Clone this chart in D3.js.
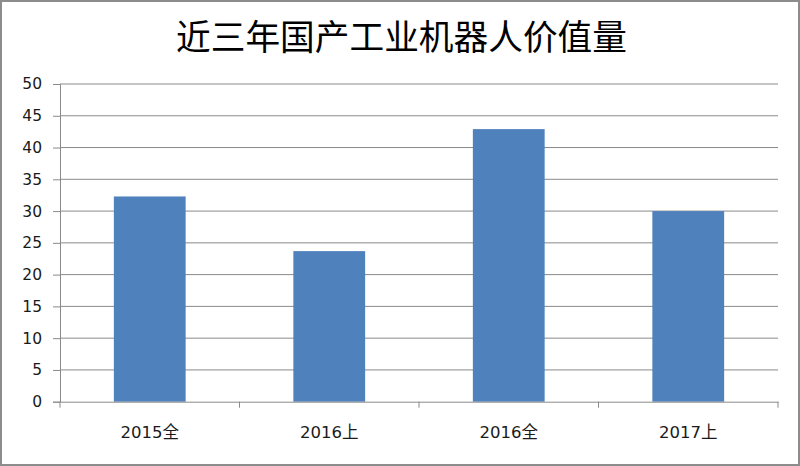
<!DOCTYPE html>
<html><head><meta charset="utf-8">
<script src="https://cdn.jsdelivr.net/npm/d3@7"></script>
<style>body{margin:0;background:#fff}svg{display:block}</style>
</head><body>
<svg id="c" width="800" height="466"></svg>
<script>
const title = "近三年国产工业机器人价值量";
const categories = ["2015全", "2016上", "2016全", "2017上"];
const values = [32.3, 23.7, 42.9, 30.0];
const yTicks = [0, 5, 10, 15, 20, 25, 30, 35, 40, 45, 50];

const svg = d3.select("#c");
const L = 60, R = 778, T = 84, B = 401.7;

svg.append("rect").attr("x", 1).attr("y", 1).attr("width", 798).attr("height", 464)
  .attr("fill", "#fff").attr("stroke", "#8c8c8c").attr("stroke-width", 2);

svg.append("text").attr("x", 401.5).attr("y", 50).attr("text-anchor", "middle")
  .attr("font-family", "'Noto Sans CJK SC', sans-serif").attr("font-size", 34.7)
  .attr("fill", "#000").text(title);

const x = d3.scaleBand().domain(categories).range([L, R]).padding(0);
const y = d3.scaleLinear().domain([0, 50]).range([B, T]);

// gridlines
svg.append("g").selectAll("line").data(yTicks.filter(d => d > 0)).join("line")
  .attr("x1", L).attr("x2", R).attr("y1", d => y(d)).attr("y2", d => y(d))
  .attr("stroke", "#8a8a8a").attr("stroke-width", 1);

// bars
const bw = x.bandwidth() * 0.4;
svg.append("g").selectAll("rect").data(values).join("rect")
  .attr("x", (d, i) => x(categories[i]) + (x.bandwidth() - bw) / 2)
  .attr("width", bw)
  .attr("y", d => y(d)).attr("height", d => B - y(d))
  .attr("fill", "#4f81bd");

// y axis
const yAxis = svg.append("g").attr("transform", `translate(${L},0)`)
  .call(d3.axisLeft(y).tickValues(yTicks).tickSize(7).tickPadding(11));
yAxis.select(".domain").attr("stroke", "#8a8a8a");
yAxis.selectAll(".tick line").attr("stroke", "#8a8a8a");
yAxis.selectAll(".tick text").attr("font-family", "'DejaVu Sans', sans-serif")
  .attr("font-size", 15.5).attr("fill", "#1a1a1a");

// x axis
const xAxis = svg.append("g").attr("transform", `translate(0,${B})`)
  .call(d3.axisBottom(x).tickSize(0).tickPadding(25));
xAxis.select(".domain").attr("stroke", "#8a8a8a");
xAxis.selectAll(".tick text").attr("font-family", "'DejaVu Sans', 'Noto Sans CJK SC', sans-serif")
  .attr("font-size", 16.5).attr("fill", "#1a1a1a");
const bounds = categories.map(c => x(c)).concat([R]);
svg.append("g").selectAll("line").data(bounds).join("line")
  .attr("x1", d => d).attr("x2", d => d).attr("y1", B).attr("y2", B + 6)
  .attr("stroke", "#8a8a8a");
</script>
</body></html>
